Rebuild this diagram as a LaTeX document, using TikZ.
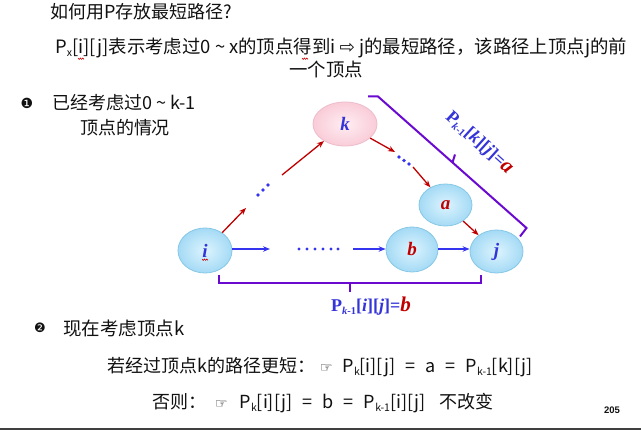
\documentclass[tikz,border=0pt]{standalone}
\usepackage{fontspec}
\setmainfont{Noto Sans CJK SC}
\newfontfamily\djv{DejaVu Sans}
\newfontfamily\tms{Liberation Serif}
\newfontfamily\arl{Liberation Sans}
\usetikzlibrary{shapes.geometric,arrows.meta,calc}
\definecolor{redA}{HTML}{C00000}
\definecolor{blueA}{HTML}{3535F0}
\definecolor{labB}{HTML}{3434D8}
\definecolor{brk}{HTML}{6A0AD0}
\definecolor{ellTop}{HTML}{DDF4FE}
\definecolor{ellBot}{HTML}{A4DAF5}
\definecolor{ellBd}{HTML}{86C8E6}
\definecolor{pTop}{HTML}{FFEEF2}
\definecolor{pBot}{HTML}{F9CCD8}
\definecolor{pBd}{HTML}{EEBCCB}
\definecolor{txt}{HTML}{111111}
\newcommand{\lsub}[1]{\raisebox{-3pt}{\fontsize{10.5}{10.5}\selectfont #1}}
\newcommand{\eqs}{\hspace{10pt}=\hspace{10pt}}
\newcommand{\hand}{{\djv\fontsize{14}{14}\selectfont ☞}}
\newcommand{\wig}[2]{\draw[redA,line width=0.6pt] (#1,#2)--++(1.2,1.4)--++(1.2,-1.4)--++(1.2,1.4)--++(1.2,-1.4)--++(1.2,1.4);}
\tikzset{
  vtx/.style={ellipse, draw=ellBd, line width=0.8pt, inner color=ellTop, outer color=ellBot,
    minimum width=54pt, minimum height=44pt, inner sep=0pt,
    font=\tms\bfseries\itshape\fontsize{19}{19}\selectfont},
  vpink/.style={vtx, draw=pBd, inner color=pTop, outer color=pBot, minimum width=64pt},
  redarr/.style={draw=redA, line width=1.3pt, -{Stealth[length=7pt,width=5.5pt]}},
  bluearr/.style={draw=blueA, line width=1.3pt, -{Stealth[length=7pt,width=5.5pt]}},
  brace/.style={draw=brk, line width=2pt},
  bdot/.style={fill=blueA, circle, inner sep=0pt, minimum size=3.6pt},
  plain/.style={inner sep=0pt, text=txt},
  lab/.style={inner sep=0pt, text=labB, font=\tms\bfseries\fontsize{18}{18}\selectfont}
}
\begin{document}
\begin{tikzpicture}[x=1pt,y=-1pt]
\useasboundingbox (0,0) rectangle (641,430);
\fill[white] (0,0) rectangle (641,430);
% texts
\node[plain,anchor=west,font=\fontsize{18}{18}\selectfont] (title) at (50,12) {如何用P存放最短路径?};
\node[plain,anchor=west,font=\fontsize{18.4}{18.4}\selectfont] (l2) at (55,48)
  {P\lsub{x}[i][j]表示考虑过0 \textasciitilde{} x的顶点得到i {\djv ⇨} j的最短路径，该路径上顶点j的前};
\node[plain,font=\fontsize{18.4}{18.4}\selectfont] (l3) at (326,70) {一个顶点};
\node[plain,font=\djv\fontsize{14}{14}\selectfont] (b1) at (27,103) {❶};
\node[plain,anchor=west,font=\fontsize{18}{18}\selectfont] (t1) at (52,103) {已经考虑过0 \textasciitilde{} k-1};
\node[plain,font=\fontsize{18}{18}\selectfont] (t1b) at (125,128) {顶点的情况};
\node[plain,font=\djv\fontsize{13}{13}\selectfont] (b2) at (40,328) {❷};
\node[plain,anchor=west,font=\fontsize{18.5}{18.5}\selectfont] (t2) at (63,328) {现在考虑顶点k};
\node[plain,anchor=west,font=\fontsize{18}{18}\selectfont] (l4) at (107,367)
  {若经过顶点k的路径更短：\hspace{5pt}\hand\hspace{10pt}P\lsub{k}[i][j]\eqs a\eqs P\lsub{k-1}[k][j]};
\node[plain,anchor=west,font=\fontsize{18}{18}\selectfont] (l5) at (152,403)
  {否则：\hspace{9pt}\hand\hspace{12pt}P\lsub{k}[i][j]\eqs b\eqs P\lsub{k-1}[i][j]\hspace{14pt}不改变};
\node[plain,font=\arl\bfseries\fontsize{9.5}{10}\selectfont] (pg) at (612,410) {205};
\draw[color=black!75,line width=2pt] (0,429) -- (641,429);
% spell-check wiggles
\wig{78}{58}
\wig{302}{58}
% vertices
\node[vpink,text=labB] (k) at (345,124) {k};
\node[vtx,text=redA,minimum width=53pt,minimum height=42pt] (a) at (445.5,205) {a};
\node[vtx,text=redA,minimum width=52pt,minimum height=45pt] (b) at (412,249.5) {b};
\node[vtx,text=labB,minimum width=53pt,minimum height=43pt] (j) at (496.5,251.5) {j};
\node[vtx,text=labB,minimum width=54pt,minimum height=45pt] (i) at (205,250.5) {i};
\wig{202}{259}
% path i -> k
\coordinate (ik1) at (246,208);
\coordinate (ik2) at (282,175);
\draw[redarr] (i) -- (ik1);
\node[bdot] (d1) at (258,195) {};
\node[bdot] (d2) at (263,190) {};
\node[bdot] (d3) at (268,185) {};
\draw[redarr] (ik2) -- (k);
% path k -> a
\coordinate (ka1) at (395,152);
\coordinate (ka2) at (413,167);
\draw[redarr] (k) -- (ka1);
\node[bdot] (e1) at (399,157) {};
\node[bdot] (e2) at (404,160.5) {};
\node[bdot] (e3) at (409,164) {};
\draw[redarr] (ka2) -- (a);
\draw[redarr] (a) -- (j);
% path i -> b
\coordinate (ib1) at (270,249);
\coordinate (ib2) at (353,249);
\draw[bluearr] (i.east |- ib1) -- (ib1);
\foreach \x [count=\n] in {299,307,315,323,331,338} \node[bdot,minimum size=3.2pt] (h\n) at (\x,249) {};
\draw[bluearr] (ib2) -- (ib2 -| b.west);
\draw[bluearr] (b.east |- ib1) -- (ib1 -| j.west);
% brackets
\draw[brace] (219,275) -- (219,283) -- (481,283) -- (481,275);
\draw[brace] (350,283) -- (350,292);
\draw[brace] (368,96.5) -- (378,96.5) -- (526.5,228) -- (520,236.5);
\draw[brace] (452.5,162.5) -- (455,154.5);
% labels
\node[lab] (lb) at (371,306) {P\raisebox{-3pt}{\fontsize{10.5}{10.5}\selectfont\itshape k\upshape -1}[\textit{i}][\textit{j}]=\textcolor{redA}{\itshape\fontsize{21}{21}\selectfont b}};
\node[lab,rotate=-42] (lk) at (479,143) {P\raisebox{-3pt}{\fontsize{10.5}{10.5}\selectfont\itshape k\upshape -1}[\textit{k}][\textit{j}]=\textcolor{redA}{\itshape\fontsize{21}{21}\selectfont a}};
\end{tikzpicture}
\end{document}
